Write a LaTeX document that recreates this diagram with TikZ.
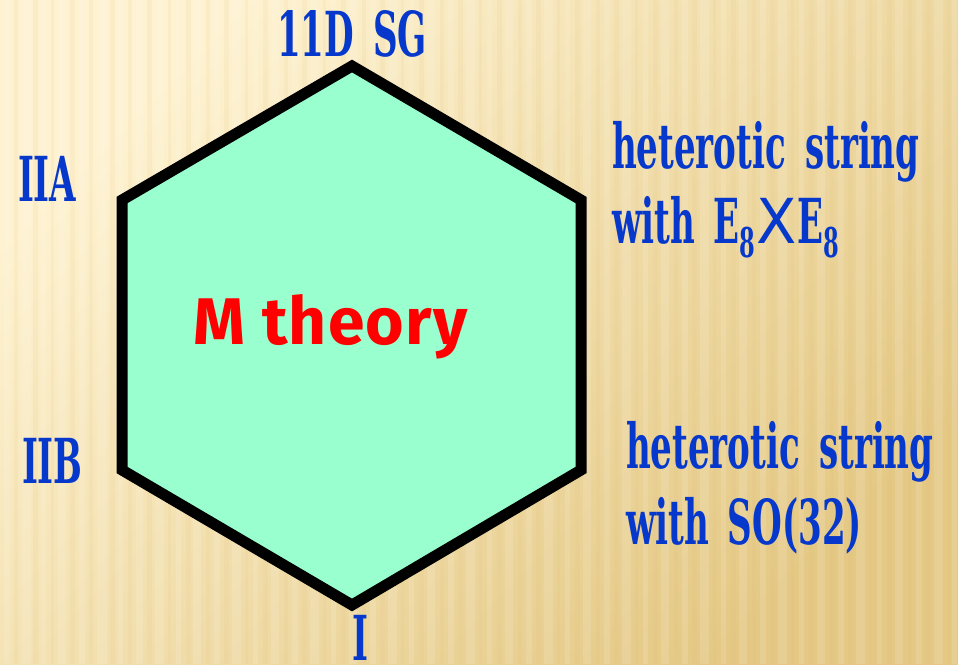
\documentclass[tikz,border=0pt]{standalone}
\usepackage{fontspec}
\newfontfamily\slab[FakeStretch=0.55]{DejaVu Serif}
\newfontfamily\xfont[FakeStretch=0.95]{DejaVu Sans}
\newfontfamily\mfont[LetterSpace=2]{Fira Sans}
\definecolor{lblue}{RGB}{6,56,204}
\definecolor{mint}{RGB}{153,255,206}
\definecolor{bgA}{RGB}{254,242,208}
\definecolor{bgB}{RGB}{228,200,132}
\newcommand{\wsp}{\hspace{19pt}}
\tikzset{
  lbl/.style={text=lblue, font=\slab\bfseries\fontsize{62}{62}\selectfont, inner sep=0pt, outer sep=0pt},
  hexa/.style={draw=black, line width=11pt, fill=mint, line join=miter},
  mtxt/.style={text=red, font=\mfont\bfseries\fontsize{66}{66}\selectfont, inner sep=0pt}
}
\begin{document}
\begin{tikzpicture}[x=1pt,y=-1pt]
\useasboundingbox (0,0) rectangle (958,664);
\shade[shading=axis, top color=bgA, bottom color=bgB, shading angle=45] (0,0) rectangle (958,664);
\foreach \x/\w in {4/6,22/9,41/5,58/8,79/6,97/10,118/5,136/7,155/9,176/5,193/8,214/6,232/9,253/5,271/8,292/6,310/9,331/5,349/8,370/6,388/9,409/5,427/8,448/6,466/9,487/5,505/8,526/6,544/9,565/5,583/8,604/6,622/9,643/5,661/8,682/6,700/9,721/5,739/8,760/6,778/9,799/5,817/8,838/6,856/9,877/5,895/8,916/6,934/9,952/5}
  \fill[white, opacity=0.13] (\x,0) rectangle ++(\w,664);
\foreach \x/\w in {14/4,33/5,51/3,70/5,89/4,110/5,128/4,147/5,168/3,186/5,206/4,224/5,245/3,263/5,284/4,302/5,323/3,341/5,362/4,380/5,401/3,419/5,440/4,458/5,479/3,497/5,518/4,536/5,557/3,575/5,596/4,614/5,635/3,653/5,674/4,692/5,713/3,731/5,752/4,770/5,791/3,809/5,830/4,848/5,869/3,887/5,908/4,926/5,947/3}
  \fill[bgB!70!brown, opacity=0.08] (\x,0) rectangle ++(\w,664);

\coordinate (v1) at (352,66);
\coordinate (v2) at (581,200);
\coordinate (v3) at (581,470);
\coordinate (v4) at (352,605);
\coordinate (v5) at (122,470);
\coordinate (v6) at (122,200);
\draw[hexa] (v1) -- (v2) -- (v3) -- (v4) -- (v5) -- (v6) -- cycle;

\node[mtxt, anchor=base west] (m) at (193,344) {M theory};

\node[lbl, anchor=base] (sg) at (352,56) {11D\wsp SG};
\node[lbl, anchor=base west] (iia) at (18,201) {IIA};
\node[lbl, anchor=base west] (iib) at (22,483) {IIB};
\node[lbl, anchor=base] (i) at (360,660) {I};
\node[lbl, anchor=base west] (h1a) at (612,168) {heterotic\wsp string};
\node[lbl, anchor=base west] (h1b) at (612,243) {with\wsp E\raisebox{-14pt}{\fontsize{41}{41}\selectfont 8}\hspace{1pt}{\xfont\mdseries X}\hspace{1pt}E\raisebox{-14pt}{\fontsize{41}{41}\selectfont 8}};
\node[lbl, anchor=base west] (h2a) at (626,468) {heterotic\wsp string};
\node[lbl, anchor=base west] (h2b) at (626,544) {with\wsp SO(32)};
\end{tikzpicture}
\end{document}
